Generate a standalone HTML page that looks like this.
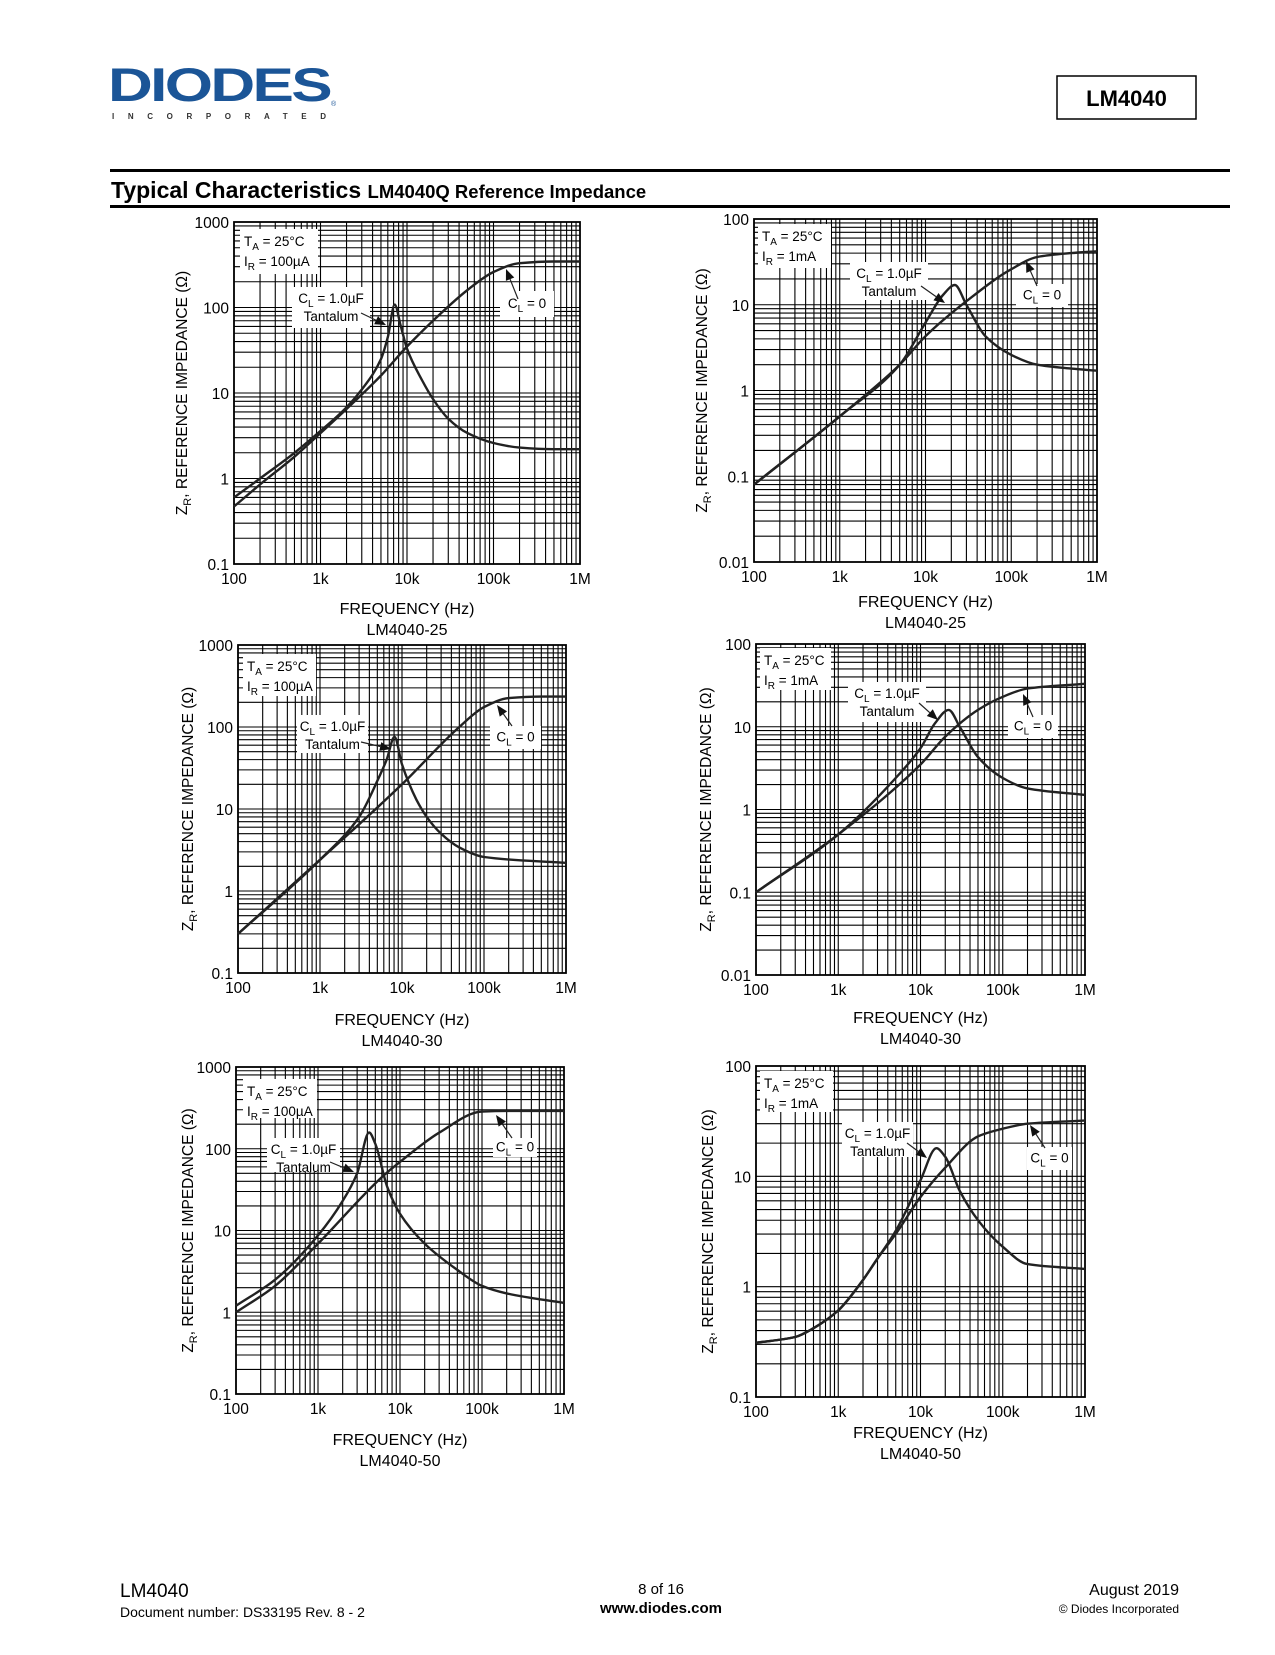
<!DOCTYPE html>
<html><head><meta charset="utf-8">
<style>
html,body{margin:0;padding:0;background:#fff;}
body{width:1275px;height:1650px;position:relative;overflow:hidden;font-family:"Liberation Sans",sans-serif;}
</style></head>
<body>
<svg id="page" width="1275" height="1650" viewBox="0 0 1275 1650" xmlns="http://www.w3.org/2000/svg" font-family="Liberation Sans, sans-serif">
  <g>
    <text x="108" y="101" font-size="47" font-weight="bold" fill="#1b5597" textLength="222" lengthAdjust="spacingAndGlyphs" letter-spacing="-2">DIODES</text>
    <text x="112" y="119" font-size="8" font-weight="bold" fill="#333" textLength="214" lengthAdjust="spacing">INCORPORATED</text>
    <text x="331" y="106" font-size="7" fill="#1b5597">®</text>
  </g>
  <g>
    <rect x="1057" y="76" width="139" height="43" fill="none" stroke="#000" stroke-width="1.5"/>
    <text x="1126.5" y="106" font-size="22" font-weight="bold" text-anchor="middle">LM4040</text>
  </g>
  <rect x="110" y="169" width="1120" height="3" fill="#000"/>
  <text x="111" y="198" font-size="23" font-weight="bold">Typical Characteristics <tspan font-size="18.5">LM4040Q Reference Impedance</tspan></text>
  <rect x="110" y="205" width="1120" height="3" fill="#000"/>
  <g id="charts"></g>
  <g>
    <text x="120" y="1597" font-size="19">LM4040</text>
    <text x="120" y="1617" font-size="14">Document number: DS33195 Rev. 8 - 2</text>
    <text x="661" y="1594" font-size="15" text-anchor="middle">8 of 16</text>
    <text x="661" y="1613" font-size="15" font-weight="bold" text-anchor="middle">www.diodes.com</text>
    <text x="1179" y="1595" font-size="16" text-anchor="end">August 2019</text>
    <text x="1179" y="1613" font-size="12" text-anchor="end">© Diodes Incorporated</text>
  </g>
</svg>
<script>
// ---- chart data (frequency in Hz, impedance in ohms) ----
const xTickLabels = ["100","1k","10k","100k","1M"];
const yTicksA = ["0.1","1","10","100","1000"];
const yTicksB = ["0.01","0.1","1","10","100"];
const yTicksC = ["0.1","1","10","100"];

const c1FreqCL0 = [100,200,500,1000,2000,5000,10000,20000,50000,100000,200000,500000,1000000];
const c1ZCL0    = [0.47,0.85,1.8,3.4,6.5,16,35,70,160,260,330,345,345];
const c1FreqTan = [100,200,500,1000,2000,3000,5000,6000,7200,8500,10000,15000,20000,30000,50000,100000,200000,500000,1000000];
const c1ZTan    = [0.6,1.0,2.0,3.6,6.8,11,25,45,108,60,33,14,8.5,5,3.4,2.6,2.3,2.2,2.2];

const c2FreqCL0 = [100,1000,5000,10000,30000,100000,200000,500000,1000000];
const c2ZCL0    = [0.08,0.5,2.0,4.3,11,26,36,40,42];
const c2FreqTan = [100,1000,5000,10000,16000,22000,30000,50000,100000,200000,500000,1000000];
const c2ZTan    = [0.08,0.5,2.0,6.2,13,17,10,4.3,2.6,2.0,1.8,1.7];

const c3FreqCL0 = [100,1000,10000,50000,100000,200000,500000,1000000];
const c3ZCL0    = [0.3,2.4,20,100,175,225,235,235];
const c3FreqTan = [100,1000,3000,5000,6500,8100,10000,15000,20000,30000,50000,100000,1000000];
const c3ZTan    = [0.3,2.4,8,22,40,76,35,13,8,5,3.4,2.6,2.2];

const c4FreqCL0 = [100,1000,10000,20000,50000,100000,200000,1000000];
const c4ZCL0    = [0.1,0.5,3.5,7.6,16,23,29,33];
const c4FreqTan = [100,1000,5000,10000,15000,22000,30000,50000,100000,200000,1000000];
const c4ZTan    = [0.1,0.5,2.4,5.5,11,16,10,4.3,2.4,1.8,1.5];

const c5FreqCL0 = [100,300,1000,6300,10000,30000,100000,200000,1000000];
const c5ZCL0    = [1.0,2.1,6.9,47,69,157,285,290,290];
const c5FreqTan = [100,300,1000,2000,3000,4200,5000,7000,10000,20000,50000,100000,200000,1000000];
const c5ZTan    = [1.2,2.5,8.7,23,50,158,115,34,16,6.9,3.3,2.1,1.7,1.3];

const c6FreqCL0 = [100,300,500,1000,2000,3000,5000,10000,20000,50000,100000,200000,1000000];
const c6ZCL0    = [0.31,0.35,0.42,0.61,1.15,1.8,3.0,6.5,12,23,27,30,32];
const c6FreqTan = [100,300,500,1000,2000,3000,5000,10000,15600,20000,30000,50000,100000,200000,1000000];
const c6ZTan    = [0.31,0.35,0.42,0.61,1.15,1.8,3.2,9.2,18,15,7.4,4.0,2.3,1.6,1.45];

const NS = "http://www.w3.org/2000/svg";
const root = document.getElementById('charts');
function mk(tag, attrs, parent){ const e=document.createElementNS(NS,tag); for(const k in attrs) e.setAttribute(k,attrs[k]); (parent||root).appendChild(e); return e; }

// monotone cubic (Fritsch-Carlson) through points with increasing x
function smoothPath(pts){
  const n=pts.length, dx=[], s=[], m=new Array(n);
  for(let i=0;i<n-1;i++){ dx[i]=pts[i+1][0]-pts[i][0]; s[i]=(pts[i+1][1]-pts[i][1])/dx[i]; }
  m[0]=s[0]; m[n-1]=s[n-2];
  for(let i=1;i<n-1;i++){
    if(s[i-1]*s[i]<=0) m[i]=0;
    else { const w1=2*dx[i]+dx[i-1], w2=dx[i]+2*dx[i-1]; m[i]=(w1+w2)/(w1/s[i-1]+w2/s[i]); }
  }
  let d="M"+pts[0][0].toFixed(1)+","+pts[0][1].toFixed(1);
  for(let i=0;i<n-1;i++){
    const h=dx[i];
    d+=" C"+(pts[i][0]+h/3).toFixed(1)+","+(pts[i][1]+m[i]*h/3).toFixed(1)+" "+
       (pts[i+1][0]-h/3).toFixed(1)+","+(pts[i+1][1]-m[i+1]*h/3).toFixed(1)+" "+
       pts[i+1][0].toFixed(1)+","+pts[i+1][1].toFixed(1);
  }
  return d;
}

function drawChart(cfg){
  const g = mk('g',{});
  
  
  const L=cfg.x, T=cfg.y, W=cfg.w, H=cfg.h;
  const yMin=parseFloat(cfg.yTicks[0]), yDec=cfg.yTicks.length-1;
  const xs = f => L + (Math.log10(f)-2)/4*W;
  const ys = v => T + H - (Math.log10(v)-Math.log10(yMin))/yDec*H;
  const grid = mk('g',{stroke:'#000','stroke-width':1.1},g);
  
  
  for(let d=2; d<6; d++) for(let m=1;m<=9;m++){
    const f=m*Math.pow(10,d); if(f>1e6) break;
    const x=xs(f); mk('line',{x1:x,y1:T,x2:x,y2:T+H},grid);
  }
  for(let d=0; d<yDec; d++) for(let m=1;m<=9;m++){
    const v=m*yMin*Math.pow(10,d);
    const y=ys(v); mk('line',{x1:L,y1:y,x2:L+W,y2:y},grid);
  }
  const fr = mk('rect',{x:L,y:T,width:W,height:H,fill:'none',stroke:'#000','stroke-width':1.8},g);
  
  
  cfg.boxes.forEach(b=>{
    const r = mk('rect',{x:L+b[0],y:T+b[1],width:b[2],height:b[3],fill:'#fff'},g);
    
    
  });
  [[cfg.fC,cfg.zC,'curve-cl-0'],[cfg.fT,cfg.zT,'curve-cl-1uf-tantalum']].forEach(s=>{
    const pts = s[0].map((f,i)=>[xs(f), ys(s[1][i])]);
    const p = mk('path',{d:smoothPath(pts),fill:'none',stroke:'#222','stroke-width':2.4,'stroke-linejoin':'round'},g);
    
    
  });
  xTickLabels.forEach((t,i)=>{
    const e = mk('text',{x:xs(100*Math.pow(10,i)),y:T+H+20,'font-size':15.5,'text-anchor':'middle'},g);
    e.textContent=t;
    
    
  });
  cfg.yTicks.forEach((t,i)=>{
    const e = mk('text',{x:L-5,y:ys(parseFloat(t))+6,'font-size':15.5,'text-anchor':'end'},g);
    e.textContent=t;
    
    
  });
  const yt = mk('text',{x:0,y:0,'font-size':15.5,'text-anchor':'middle',transform:`translate(${L-cfg.ytOff},${T+H/2}) rotate(-90)`},g);
  yt.innerHTML = 'Z<tspan font-size="11" dy="4">R</tspan><tspan dy="-4">, REFERENCE IMPEDANCE (Ω)</tspan>';
  
  
  const xt = mk('text',{x:L+W/2,y:cfg.xtY,'font-size':16,'text-anchor':'middle'},g);
  xt.textContent='FREQUENCY (Hz)';
  
  
  const ct = mk('text',{x:L+W/2,y:cfg.xtY+21,'font-size':16,'text-anchor':'middle'},g);
  ct.textContent=cfg.caption;
  
  
  const b0=cfg.boxes[0], b1=cfg.boxes[1], b2=cfg.boxes[2];
  const t1 = mk('text',{x:L+b0[0]+4,y:T+b0[1]+17,'font-size':13.5},g);
  t1.innerHTML='T<tspan font-size="10" dy="4">A</tspan><tspan dy="-4"> = 25°C</tspan>';
  
  
  const t2 = mk('text',{x:L+b0[0]+4,y:T+b0[1]+37,'font-size':13.5},g);
  t2.innerHTML='I<tspan font-size="10" dy="4">R</tspan><tspan dy="-4"> = '+cfg.ir+'</tspan>';
  
  
  const t3 = mk('text',{x:L+b1[0]+b1[2]/2,y:T+b1[1]+16,'font-size':13.5,'text-anchor':'middle'},g);
  t3.innerHTML='C<tspan font-size="10" dy="4">L</tspan><tspan dy="-4"> = 1.0µF</tspan>';
  
  
  const t4 = mk('text',{x:L+b1[0]+b1[2]/2,y:T+b1[1]+34,'font-size':13.5,'text-anchor':'middle'},g);
  t4.textContent='Tantalum';
  
  
  const t5 = mk('text',{x:L+b2[0]+b2[2]/2,y:T+b2[1]+b2[3]/2+4,'font-size':13.5,'text-anchor':'middle'},g);
  t5.innerHTML='C<tspan font-size="10" dy="4">L</tspan><tspan dy="-4"> = 0</tspan>';
  
  
  cfg.arrows.forEach(a=>{
    const x1=L+a[0],y1=T+a[1],x2=L+a[2],y2=T+a[3];
    const ang=Math.atan2(y2-y1,x2-x1), len=11, wid=4.5;
    const bx=x2-len*Math.cos(ang), by=y2-len*Math.sin(ang);
    const ag = mk('g',{},g);
    
    
    mk('line',{x1:x1,y1:y1,x2:bx,y2:by,stroke:'#222','stroke-width':1.2},ag);
    mk('polygon',{points:`${x2},${y2} ${bx-wid*Math.sin(ang)},${by+wid*Math.cos(ang)} ${bx+wid*Math.sin(ang)},${by-wid*Math.cos(ang)}`,fill:'#111'},ag);
  });
}

drawChart({name:'chart-lm4040-25-100ua',x:234,y:222,w:346,h:342,yTicks:yTicksA,ir:'100µA',caption:'LM4040-25',xtY:614,ytOff:47,
  fC:c1FreqCL0,zC:c1ZCL0,fT:c1FreqTan,zT:c1ZTan,
  boxes:[[6,7,78,45],[58,65,78,41],[266,69,54,26]],
  arrows:[[127,91,152,103],[284,77,272,47]]});
drawChart({name:'chart-lm4040-25-1ma',x:754,y:219,w:343,h:343,yTicks:yTicksB,ir:'1mA',caption:'LM4040-25',xtY:607,ytOff:47,
  fC:c2FreqCL0,zC:c2ZCL0,fT:c2FreqTan,zT:c2ZTan,
  boxes:[[4,5,73,44],[96,43,78,38],[262,65,52,23]],
  arrows:[[167,67,191,84],[283,67,272,42]]});
drawChart({name:'chart-lm4040-30-100ua',x:238,y:645,w:328,h:328,yTicks:yTicksA,ir:'100µA',caption:'LM4040-30',xtY:1025,ytOff:45,
  fC:c3FreqCL0,zC:c3ZCL0,fT:c3FreqTan,zT:c3ZTan,
  boxes:[[5,9,73,42],[59,70,71,38],[252,81,51,23]],
  arrows:[[123,97,153,104],[274,81,259,60]]});
drawChart({name:'chart-lm4040-30-1ma',x:756,y:644,w:329,h:331,yTicks:yTicksB,ir:'1mA',caption:'LM4040-30',xtY:1023,ytOff:45,
  fC:c4FreqCL0,zC:c4ZCL0,fT:c4FreqTan,zT:c4ZTan,
  boxes:[[4,4,71,42],[92,38,78,40],[252,71,50,23]],
  arrows:[[163,59,182,76],[277,73,267,50]]});
drawChart({name:'chart-lm4040-50-100ua',x:236,y:1067,w:328,h:327,yTicks:yTicksA,ir:'100µA',caption:'LM4040-50',xtY:1445,ytOff:43,
  fC:c5FreqCL0,zC:c5ZCL0,fT:c5FreqTan,zT:c5ZTan,
  boxes:[[7,12,74,39],[31,71,73,34],[257,71,44,19]],
  arrows:[[94,95,118,105],[276,71,260,48]]});
drawChart({name:'chart-lm4040-50-1ma',x:756,y:1066,w:329,h:331,yTicks:yTicksC,ir:'1mA',caption:'LM4040-50',xtY:1438,ytOff:43,
  fC:c6FreqCL0,zC:c6ZCL0,fT:c6FreqTan,zT:c6ZTan,
  boxes:[[4,5,73,41],[86,56,71,35],[271,81,45,23]],
  arrows:[[151,77,171,92],[289,82,274,59]]});
</script>
</body></html>
